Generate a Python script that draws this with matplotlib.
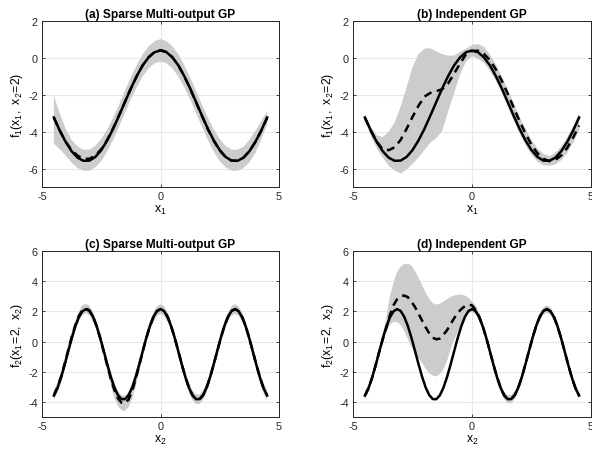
import numpy as np
import matplotlib
matplotlib.use("Agg")
import matplotlib.pyplot as plt

plt.rcParams["font.family"] = ["Liberation Sans", "DejaVu Sans"]
plt.rcParams["mathtext.fontset"] = "custom"
plt.rcParams["mathtext.rm"] = "Liberation Sans"
plt.rcParams["axes.unicode_minus"] = False

# ---- data ----
# top row: f1(x1, x2=2), sampled every 0.25
x1 = np.linspace(-4.5, 4.5, 37)
f1_true = [-3.23, -3.94, -4.56, -5.06, -5.41, -5.58, -5.57, -5.37, -5.00, -4.48, -3.85, -3.13, -2.39, -1.65,
           -0.98, -0.40, 0.03, 0.31, 0.40, 0.31, 0.03, -0.40, -0.98, -1.65, -2.39, -3.13, -3.85, -4.48,
           -5.00, -5.37, -5.57, -5.58, -5.41, -5.06, -4.56, -3.94, -3.23]
f1_mogp = [-3.25, -3.95, -4.55, -5.0, -5.3, -5.47, -5.47, -5.3, -4.95, -4.45, -3.82, -3.12, -2.38, -1.66,
           -0.98, -0.40, 0.04, 0.33, 0.42, 0.33, 0.04, -0.40, -0.99, -1.67, -2.41, -3.15, -3.87, -4.5,
           -5.02, -5.38, -5.57, -5.58, -5.41, -5.06, -4.56, -3.95, -3.25]
f1_mogp_hi = [-2.05, -3.0, -3.85, -4.45, -4.8, -4.98, -4.97, -4.77, -4.4, -3.88, -3.25, -2.53, -1.79, -1.05,
              -0.38, 0.2, 0.63, 0.91, 1.02, 0.91, 0.63, 0.2, -0.38, -1.05, -1.79, -2.53, -3.25, -3.88,
              -4.4, -4.77, -4.97, -4.98, -4.81, -4.46, -3.96, -3.44, -2.88]
f1_mogp_lo = [-4.65, -4.95, -5.3, -5.68, -5.97, -6.12, -6.12, -5.93, -5.6, -5.08, -4.45, -3.73, -2.99, -2.25,
              -1.58, -1.0, -0.57, -0.29, -0.2, -0.29, -0.57, -1.0, -1.58, -2.25, -2.99, -3.73, -4.45, -5.08,
              -5.6, -5.93, -6.12, -6.12, -5.97, -5.66, -5.16, -4.44, -3.6]
f1_ind = [-3.25, -3.95, -4.55, -4.95, -5.0, -4.85, -4.45, -3.85, -3.2, -2.6, -2.1, -1.9, -1.8, -1.7,
          -1.38, -0.85, -0.3, 0.2, 0.37, 0.39, 0.22, -0.12, -0.62, -1.24, -1.94, -2.69, -3.43, -4.11,
          -4.71, -5.17, -5.47, -5.60, -5.53, -5.29, -4.88, -4.32, -3.67]
f1_ind_hi = [-3.15, -3.75, -4.2, -4.3, -4.0, -3.5, -2.65, -1.6, -0.5, 0.2, 0.5, 0.52, 0.35, 0.2,
             0.12, 0.13, 0.33, 0.5, 0.7, 0.75, 0.6, 0.2, -0.35, -1.0, -1.7, -2.45, -3.2, -3.85,
             -4.45, -4.9, -5.2, -5.33, -5.15, -4.8, -4.3, -3.7, -3.0]
f1_ind_lo = [-3.35, -4.25, -4.9, -5.4, -5.85, -6.1, -6.27, -6.05, -5.75, -5.4, -5.0, -4.6, -4.35, -3.95,
             -2.9, -1.9, -0.9, -0.2, 0.1, -0.05, -0.25, -0.7, -1.25, -1.9, -2.65, -3.4, -4.1, -4.75,
             -5.25, -5.62, -5.82, -5.85, -5.78, -5.55, -5.15, -4.6, -3.95]

# bottom row: f2(x1=2, x2), sampled every 0.15
x2 = np.linspace(-4.5, 4.5, 61)
f2_true = [-3.58, -3.10, -2.41, -1.58, -0.69, 0.19, 0.98, 1.60, 2.00, 2.15, 2.03, 1.65, 1.05, 0.28, -0.59,
           -1.48, -2.32, -3.03, -3.54, -3.81, -3.82, -3.56, -3.06, -2.36, -1.53, -0.64, 0.24, 1.01, 1.63,
           2.02, 2.15, 2.02, 1.63, 1.01, 0.24, -0.64, -1.53, -2.36, -3.06, -3.56, -3.82, -3.81, -3.54,
           -3.03, -2.32, -1.48, -0.59, 0.28, 1.05, 1.65, 2.03, 2.15, 2.00, 1.60, 0.98, 0.19, -0.69, -1.58,
           -2.41, -3.10, -3.58]
f2_mogp = [-3.55, -3.05, -2.35, -1.5, -0.6, 0.28, 1.05, 1.68, 2.07, 2.2, 2.06, 1.66, 1.04, 0.25, -0.65,
           -1.58, -2.45, -3.2, -3.75, -4.05, -4.1, -3.85, -3.3, -2.5, -1.6, -0.67, 0.22, 1.0, 1.62,
           2.02, 2.15, 2.03, 1.64, 1.02, 0.25, -0.63, -1.52, -2.35, -3.05, -3.56, -3.83, -3.82, -3.55,
           -3.04, -2.33, -1.49, -0.6, 0.27, 1.04, 1.64, 2.03, 2.16, 2.01, 1.61, 0.99, 0.2, -0.68, -1.57,
           -2.4, -3.1, -3.57]
f2_mogp_hi = [-3.2, -2.72, -2.02, -1.17, -0.27, 0.62, 1.38, 2.0, 2.4, 2.5, 2.38, 1.98, 1.37, 0.58, -0.32,
              -1.25, -2.05, -2.7, -3.25, -3.55, -3.6, -3.35, -2.8, -2.0, -1.2, -0.32, 0.55, 1.32, 1.94,
              2.34, 2.47, 2.35, 1.96, 1.34, 0.57, -0.31, -1.2, -2.03, -2.73, -3.24, -3.5, -3.5, -3.23,
              -2.72, -2.01, -1.17, -0.28, 0.59, 1.36, 1.96, 2.35, 2.48, 2.33, 1.93, 1.31, 0.52, -0.36, -1.25,
              -2.08, -2.77, -3.22]
f2_mogp_lo = [-3.9, -3.4, -2.7, -1.85, -0.95, -0.08, 0.72, 1.36, 1.74, 1.88, 1.74, 1.34, 0.71, -0.08, -0.98,
              -1.9, -2.85, -3.7, -4.25, -4.55, -4.6, -4.35, -3.8, -3.0, -2.0, -1.02, -0.12, 0.68, 1.3,
              1.7, 1.83, 1.71, 1.32, 0.7, -0.07, -0.95, -1.84, -2.67, -3.37, -3.88, -4.15, -4.14, -3.87,
              -3.36, -2.65, -1.81, -0.92, -0.05, 0.72, 1.32, 1.71, 1.84, 1.69, 1.29, 0.67, -0.12, -1.0, -1.89,
              -2.72, -3.42, -3.92]
f2_ind = [-3.58, -3.10, -2.41, -1.58, -0.69, 0.15, 0.9, 1.75, 2.4, 2.8, 3.0, 3.05, 2.95, 2.65, 2.3,
          1.85, 1.4, 0.95, 0.55, 0.25, 0.15, 0.2, 0.45, 0.75, 1.15, 1.55, 1.9, 2.15, 2.35,
          2.45, 2.4, 2.1, 1.65, 1.02, 0.25, -0.63, -1.52, -2.35, -3.05, -3.56, -3.82, -3.81, -3.54,
          -3.03, -2.32, -1.48, -0.59, 0.28, 1.05, 1.65, 2.03, 2.15, 2.00, 1.60, 0.98, 0.19, -0.69, -1.58,
          -2.41, -3.10, -3.58]
f2_ind_hi = [-3.3, -2.85, -2.15, -1.3, -0.4, 0.5, 1.6, 3.0, 3.9, 4.6, 4.95, 5.15, 5.15, 5.05, 4.7,
             4.25, 3.75, 3.25, 2.85, 2.55, 2.45, 2.5, 2.65, 2.8, 2.95, 3.05, 3.1, 3.1, 3.05,
             2.9, 2.65, 2.4, 1.95, 1.3, 0.5, -0.38, -1.27, -2.1, -2.8, -3.3, -3.55, -3.55, -3.28,
             -2.78, -2.07, -1.23, -0.34, 0.53, 1.3, 1.9, 2.28, 2.4, 2.25, 1.85, 1.23, 0.44, -0.44, -1.33,
             -2.16, -2.85, -3.33]
f2_ind_lo = [-3.85, -3.35, -2.65, -1.85, -0.95, -0.1, 0.7, 1.1, 1.3, 1.3, 1.1, 0.7, 0.2, -0.35, -0.75,
             -1.1, -1.4, -1.8, -2.1, -2.25, -2.32, -2.15, -1.85, -1.3, -0.5, 0.1, 0.6, 1.1, 1.5,
             1.9, 1.95, 1.8, 1.35, 0.75, 0.0, -0.88, -1.77, -2.6, -3.3, -3.82, -4.1, -4.1, -3.8,
             -3.28, -2.57, -1.73, -0.84, 0.03, 0.8, 1.4, 1.78, 1.9, 1.75, 1.35, 0.73, -0.06, -0.94, -1.83,
             -2.66, -3.35, -3.83]

titles = ["(a) Sparse Multi-output GP", "(b) Independent GP",
          "(c) Sparse Multi-output GP", "(d) Independent GP"]
ylab_top = r"$\mathregular{f_1(x_1,\ x_2\!=\!2)}$"
ylab_bot = r"$\mathregular{f_2(x_1\!=\!2,\ x_2)}$"

# ---- figure ----
fig = plt.figure(figsize=(5.92, 4.52), dpi=100)
W, H = 592.0, 452.0


def make_ax(left, top, right, bottom):
    return fig.add_axes([left / W, 1 - bottom / H, (right - left) / W, (bottom - top) / H])


axs = [make_ax(42, 22, 279, 188), make_ax(353, 22, 591, 188),
       make_ax(42, 252, 279, 418), make_ax(353, 252, 591, 418)]

panels = [
    (x1, f1_true, f1_mogp, f1_mogp_lo, f1_mogp_hi, ylab_top, r"$\mathregular{x_1}$"),
    (x1, f1_true, f1_ind, f1_ind_lo, f1_ind_hi, ylab_top, r"$\mathregular{x_1}$"),
    (x2, f2_true, f2_mogp, f2_mogp_lo, f2_mogp_hi, ylab_bot, r"$\mathregular{x_2}$"),
    (x2, f2_true, f2_ind, f2_ind_lo, f2_ind_hi, ylab_bot, r"$\mathregular{x_2}$"),
]

for i, (ax, (x, ftrue, fmean, flo, fhi, ylab, xlab)) in enumerate(zip(axs, panels)):
    ax.fill_between(x, flo, fhi, facecolor="#cccccc", edgecolor="none", zorder=2)
    ax.plot(x, fmean, color="black", lw=1.8, ls=(0, (3.2, 2.2)), zorder=3)
    ax.plot(x, ftrue, color="black", lw=1.8, zorder=4)

    ax.set_xlim(-5, 5)
    ax.set_xticks([-5, 0, 5])
    if i < 2:
        ax.set_ylim(-7, 2)
        ax.set_yticks([-6, -4, -2, 0, 2])
    else:
        ax.set_ylim(-5, 6)
        ax.set_yticks([-4, -2, 0, 2, 4, 6])

    ax.grid(True, color="#e8e8e8", lw=0.8, zorder=0)
    ax.set_axisbelow(True)
    for s in ax.spines.values():
        s.set_color("#262626")
        s.set_linewidth(0.7)
    ax.tick_params(direction="in", length=2.5, width=0.6, labelsize=7.8, colors="#262626",
                   top=True, right=True, pad=3)
    ax.set_title(titles[i], fontsize=8.6, fontweight="bold", pad=3)
    ax.set_xlabel(xlab, fontsize=8.8, labelpad=1)
    ax.set_ylabel(ylab, fontsize=8.8, labelpad=2)

fig.savefig("out.png", dpi=100)
